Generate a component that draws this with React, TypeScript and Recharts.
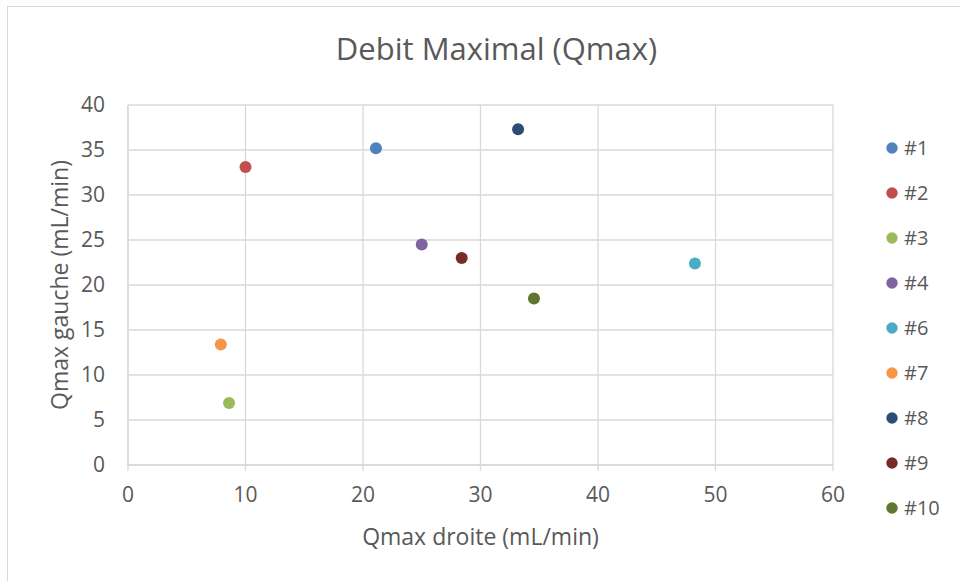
import React from 'react';
import { ScatterChart, Scatter, XAxis, YAxis, CartesianGrid, Legend } from 'recharts';

const seriesNames = ['#1', '#2', '#3', '#4', '#6', '#7', '#8', '#9', '#10'];
const xValues = [21.1, 10.0, 8.6, 25.0, 48.25, 7.9, 33.2, 28.4, 34.55];
const yValues = [35.2, 33.1, 6.9, 24.5, 22.4, 13.4, 37.3, 23.0, 18.5];
const colors = ['#4F81BD', '#C0504D', '#9BBB59', '#8064A2', '#4BACC6', '#F79646', '#2C4D75', '#772C2A', '#5F7530'];
const xTicks = [0, 10, 20, 30, 40, 50, 60];
const yTicks = [0, 5, 10, 15, 20, 25, 30, 35, 40];

const FONT = '"Open Sans", sans-serif';
const TEXT = '#595959';
const GRID = '#d9d9d9';

const LegendContent = () => (
  <div style={{ fontFamily: FONT }}>
    {seriesNames.map((n, i) => (
      <div key={n} style={{ height: 45, display: 'flex', alignItems: 'center', color: TEXT, fontSize: 20 }}>
        <svg width={12} height={12} style={{ marginRight: 6 }}>
          <circle cx={6} cy={6} r={5.7} fill={colors[i]} />
        </svg>
        <span>{n}</span>
      </div>
    ))}
  </div>
);

export default function App() {
  return (
    <div style={{ position: 'absolute', left: 0, top: 0, width: 960, height: 581, overflow: 'hidden', background: '#fff' }}>
      <div style={{ position: 'absolute', left: 7, top: 6, width: 1000, height: 700, border: `1.5px solid ${GRID}`, boxSizing: 'border-box' }} />
      <div style={{ position: 'absolute', left: 0, width: 993, top: 26, textAlign: 'center', fontFamily: FONT, fontSize: 31, color: TEXT, lineHeight: '44px' }}>
        Debit Maximal (Qmax)
      </div>
      <ScatterChart width={960} height={581} margin={{ top: 105, right: 127, bottom: 76, left: 0 }} style={{ position: 'absolute', left: 0, top: 0 }}>
        <CartesianGrid stroke={GRID} strokeWidth={1.3} />
        <XAxis
          type="number"
          dataKey="x"
          domain={[0, 60]}
          ticks={xTicks}
          height={40}
          axisLine={{ stroke: GRID, strokeWidth: 1.3 }}
          tickLine={{ stroke: GRID, strokeWidth: 1.3 }}
          tickSize={6}
          tickMargin={16}
          tick={{ fill: TEXT, fontSize: 21, fontFamily: FONT }}
          label={{ value: 'Qmax droite (mL/min)', position: 'bottom', offset: 24, style: { fill: TEXT, fontSize: 23, fontFamily: FONT } }}
        />
        <YAxis
          type="number"
          dataKey="y"
          domain={[0, 40]}
          ticks={yTicks}
          width={128}
          axisLine={{ stroke: GRID, strokeWidth: 1.3 }}
          tickLine={false}
          tickSize={6}
          tickMargin={17}
          tick={{ fill: TEXT, fontSize: 21, fontFamily: FONT }}
          label={{ value: 'Qmax gauche (mL/min)', angle: -90, position: 'center', dx: -4, style: { fill: TEXT, fontSize: 23, fontFamily: FONT, textAnchor: 'middle' } }}
        />
        <Legend
          layout="vertical"
          align="center"
          verticalAlign="middle"
          content={<LegendContent />}
          wrapperStyle={{ left: 886, top: 125, width: 75 }}
        />
        {seriesNames.map((n, i) => (
          <Scatter
            key={n}
            name={n}
            data={[{ x: xValues[i], y: yValues[i] }]}
            fill={colors[i]}
            isAnimationActive={false}
            shape={(p: any) => <circle cx={p.cx} cy={p.cy} r={6} fill={colors[i]} />}
          />
        ))}
      </ScatterChart>
    </div>
  );
}
